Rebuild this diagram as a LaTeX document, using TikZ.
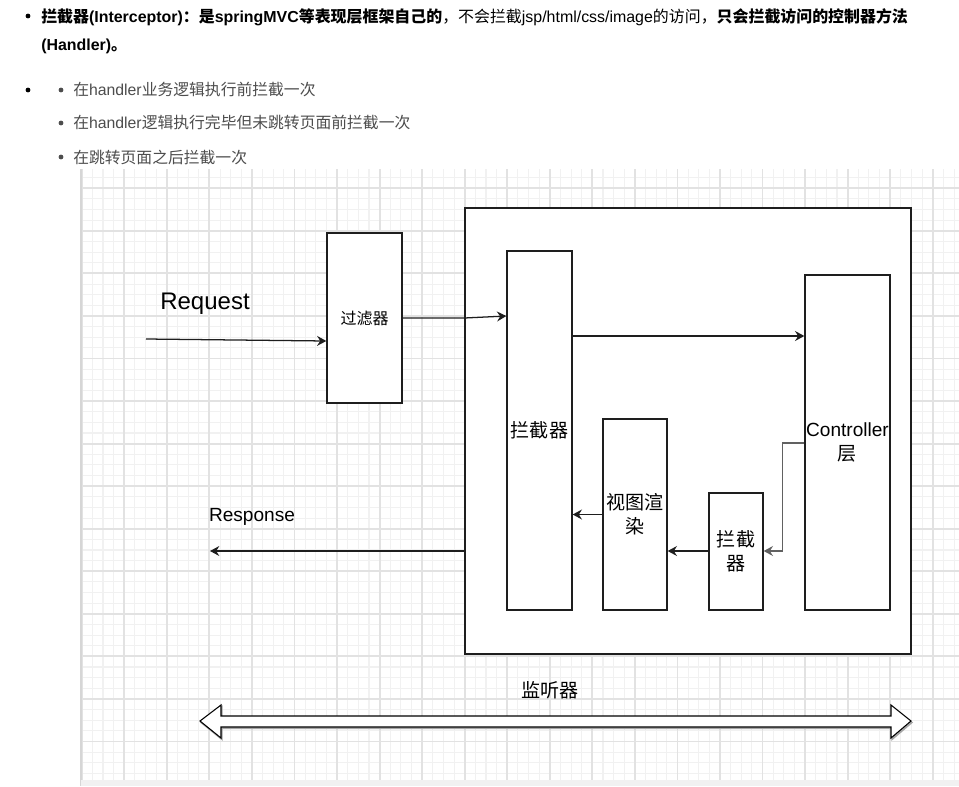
\documentclass[tikz,border=0pt]{standalone}
\usepackage{fontspec}
\setmainfont{Liberation Sans}
\newfontfamily\cjk{Noto Sans CJK SC}
\usetikzlibrary{arrows.meta}
\definecolor{gridminor}{HTML}{F1F1F1}
\definecolor{gridmajor}{HTML}{E2E2E2}
\definecolor{listgray}{HTML}{4D4D4D}
\definecolor{stroke}{HTML}{1E1E1E}
\definecolor{edgegray}{HTML}{D6D6D6}

\begin{document}
\begin{tikzpicture}[x=0.75pt,y=-0.75pt,
  box/.style={draw=stroke, line width=1pt, fill=white, inner sep=0pt, align=center,
              font=\fontsize{14.3}{18}\selectfont},
  arr/.style={-{Stealth[length=7pt,width=7.5pt,inset=2.4pt]}, line width=0.95pt, draw=stroke},
  lbl/.style={inner sep=0pt, font=\fontsize{14.3}{18}\selectfont},
  head/.style={inner sep=0pt, anchor=base west, font=\fontsize{11.95}{14}\selectfont},
  item/.style={inner sep=0pt, anchor=base west, text=listgray, font=\fontsize{11.85}{14}\selectfont},
  dot/.style={circle, fill=#1, inner sep=0pt, minimum size=3.6pt},
  minorline/.style={draw=gridminor, line width=0.8pt},
  majorline/.style={draw=gridmajor, line width=1.4pt}
]
\useasboundingbox (0,0) rectangle (959,786);
\fill[white] (0,0) rectangle (959,786);

% ---------- heading and bullet list ----------
\node[dot=black] (b0) at (28,16) {};
\node[head] (t1) at (41,22) {\textbf{{\cjk 拦截器}(Interceptor){\cjk ：是}springMVC{\cjk 等表现层框架自己的}}{\cjk ，不会拦截}jsp/html/css/image{\cjk 的访问，}\textbf{\cjk 只会拦截访问的控制器方法}};
\node[head] (t2) at (41,50) {\textbf{(Handler){\cjk 。}}};

\node[dot=black] (b1) at (28,90) {};
\node[dot=listgray] (b2) at (61,90) {};
\node[dot=listgray] (b3) at (61,123) {};
\node[dot=listgray] (b4) at (61,157) {};
\node[item] (l1) at (73,95) {{\cjk 在}handler{\cjk 业务逻辑执行前拦截一次}};
\node[item] (l2) at (73,128) {{\cjk 在}handler{\cjk 逻辑执行完毕但未跳转页面前拦截一次}};
\node[item] (l3) at (73,163) {\cjk 在跳转页面之后拦截一次};

% ---------- canvas grid ----------
\begin{scope}
  \clip (81,169) rectangle (959,780);
  \foreach \i in {0,...,83}
    \draw[minorline] ({81.75+\i*10.6375},169) -- ({81.75+\i*10.6375},780);
  \foreach \j in {2,...,60}
    \draw[minorline] (81,{145.75+\j*10.6375}) -- (959,{145.75+\j*10.6375});
  \foreach \i in {0,...,21}
    \draw[majorline] ({81.75+\i*42.55},169) -- ({81.75+\i*42.55},780);
  \foreach \j in {1,...,15}
    \draw[majorline] (81,{145.75+\j*42.55}) -- (959,{145.75+\j*42.55});
\end{scope}
\draw[edgegray, line width=1.5pt] (81,169) -- (81,786);
\fill[gridminor] (81,780) rectangle (959,786);

% ---------- boxes ----------
\node[box, minimum width=75*0.75pt, minimum height=170*0.75pt, font=\fontsize{12}{14}\selectfont]
  (filter) at (364.5,318) {\cjk 过滤器};
\node[box, minimum width=446*0.75pt, minimum height=446*0.75pt] (mvc) at (688,431) {};
\node[box, minimum width=65*0.75pt, minimum height=359*0.75pt] (icpt) at (539.5,430.5) {\cjk 拦截器};
\node[box, minimum width=85*0.75pt, minimum height=335*0.75pt] (ctrl) at (847.5,442.5) {Controller\\{\cjk 层}};
\node[box, minimum width=64*0.75pt, minimum height=191*0.75pt] (view) at (635,514.5) {{\cjk 视图渲}\\{\cjk 染}};
\node[box, minimum width=54*0.75pt, minimum height=117*0.75pt] (icpt2) at (736,551.5) {{\cjk 拦截}\\{\cjk 器}};

% ---------- labels ----------
\node[lbl, font=\fontsize{18}{20}\selectfont] (req) at (205,304) {Request};
\node[lbl] (resp) at (252,517) {Response};
\node[lbl] (lsn) at (550,690) {\cjk 监听器};

% ---------- connectors ----------
\coordinate (reqin) at (146,339);
\coordinate (respout) at (210,551);
\coordinate (y316) at (0,316);
\coordinate (y318) at (0,318);
\coordinate (y330) at (0,330);
\coordinate (y336) at (0,336);
\coordinate (y341) at (0,341);
\coordinate (y443) at (0,443);
\coordinate (y551) at (0,551);

\draw[arr] (reqin) -- (filter.west |- y341);
\draw[arr] (filter.east) -- (mvc.west |- y318) -- (icpt.west |- y316);
\draw[arr] (icpt.east |- y330) -- (icpt.east |- y336) -- (ctrl.west |- y336);
\draw[arr, draw=stroke!70] (ctrl.west |- y443) -- ++(-22,0) |- (icpt2.east |- y551);
\draw[arr] (icpt2.west |- y551) -- (view.east |- y551);
\draw[arr] (view.west) -- (icpt.east |- view.west);
\draw[arr] (mvc.west |- y551) -- (respout);

% ---------- listener double arrow ----------
\draw[gray!70, line width=1pt, fill=gray!60]
  (201,722.5) -- (222,706.5) -- (222,717.5) -- (892,717.5) -- (892,706.5) -- (912,722.5)
  -- (892,739.5) -- (892,728.5) -- (222,728.5) -- (222,739.5) -- cycle;
\draw[stroke, line width=0.8pt, fill=white]
  (200,721) -- (221,705) -- (221,716) -- (891,716) -- (891,705) -- (911,721)
  -- (891,738) -- (891,727) -- (221,727) -- (221,738) -- cycle;
\end{tikzpicture}
\end{document}
